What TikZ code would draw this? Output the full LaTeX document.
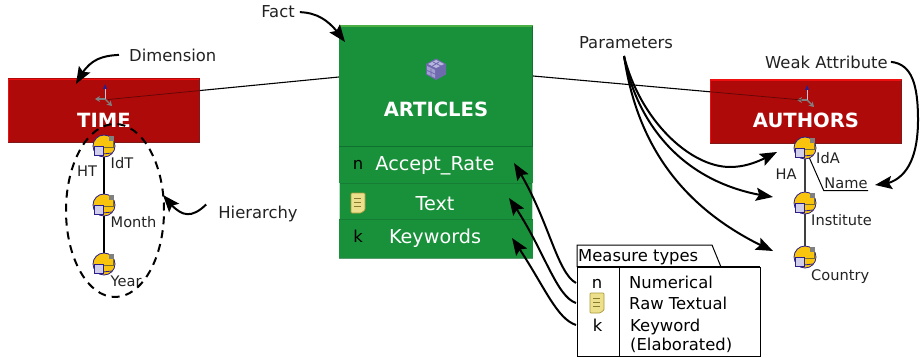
\documentclass[tikz,border=0pt]{standalone}
\usepackage{fontspec}
\setmainfont{DejaVu Sans}
\usetikzlibrary{arrows.meta,bending,shapes.geometric,calc}
\pgfdeclarelayer{bg}
\pgfsetlayers{bg,main}
\definecolor{dimred}{HTML}{AE0A0A}
\definecolor{dimhi}{HTML}{EE1010}
\definecolor{dimlo}{HTML}{7E1A1A}
\definecolor{factgreen}{HTML}{19913A}
\definecolor{facthi}{HTML}{4CAF45}
\definecolor{factlo}{HTML}{127030}
\definecolor{attryellow}{HTML}{F8C40E}
\definecolor{attrblue}{HTML}{2A1E8C}
\definecolor{attrsq}{HTML}{D0CEE8}
\definecolor{inktext}{HTML}{222222}
\definecolor{notey}{HTML}{EDE08C}
\definecolor{noteb}{HTML}{A89A3C}
\definecolor{cubeb}{HTML}{6E6AAE}
\definecolor{cubel}{HTML}{B8B6DE}
\tikzset{
  lab/.style={inner sep=0pt,text=inktext,font=\fontsize{16.4}{18}\selectfont},
  small/.style={inner sep=0pt,text=inktext,font=\fontsize{14.6}{16}\selectfont},
  dimbox/.style={fill=dimred,draw=none,inner sep=0pt,minimum width=192pt,minimum height=65pt},
  factbox/.style={fill=factgreen,draw=none,inner sep=0pt,minimum width=194pt},
  boxtitle/.style={inner sep=0pt,anchor=base,text=white,font=\fontsize{19.6}{22}\selectfont\bfseries},
  field/.style={inner sep=0pt,anchor=base,text=white,font=\fontsize{19.2}{22}\selectfont},
  typ/.style={inner sep=0pt,text=black,font=\fontsize{16.4}{18}\selectfont},
  attr/.style={circle,fill=attryellow,draw=attrblue,line width=0.8pt,inner sep=0pt,minimum size=22pt},
  callout/.style={line width=2pt,-{Stealth[length=17pt,width=13pt,inset=3pt,flex]},black},
  thin link/.style={line width=1.1pt,black},
  faint link/.style={line width=0.7pt,color=black!45!dimred},
}
% attribute icon: yellow disc, lilac square, corner tag
\newcommand{\attricon}[3]{%
  \node[attr] (#1) at (#2,#3) {};
  \draw[attrblue,line width=0.8pt] (#2-1,#3+8) -- (#2+8,#3+7);
  \fill[gray] (#2+5,#3-10) rectangle (#2+10,#3-5);
  \draw[noteb!70!black,line width=0.8pt] (#2+9,#3-5) -- (#2+9,#3+1) -- (#2-1,#3+1);
  \draw[attrblue,line width=0.9pt,fill=attrsq] (#2-9.5,#3) rectangle (#2-0.5,#3+9);
}
\newcommand{\noteicon}[2]{%
  \draw[noteb,line width=0.7pt,fill=notey,rounded corners=0.8pt]
    (#1-7,#2-10) -- (#1+7,#2-10) -- (#1+7,#2+7) -- (#1+3,#2+10) -- (#1-7,#2+10) -- cycle;
  \foreach \ny in {-5,-1,3}{\draw[noteb!80!black,line width=1pt] (#1-4,#2+\ny) -- (#1+3,#2+\ny);}
}
\newcommand{\axesicon}[2]{%
  \draw[white!75!attrblue,line width=1pt] (#1,#2) -- (#1,#2-11);
  \fill[attrblue] (#1,#2-15) -- (#1+2,#2-10) -- (#1-2,#2-10) -- cycle;
  \draw[black!50,line width=1.4pt,-{Stealth[length=5pt,width=6pt]}] (#1,#2) -- (#1-10,#2);
  \draw[black!50,line width=1.4pt,-{Stealth[length=5pt,width=6pt]}] (#1,#2) -- (#1+7,#2+7);
}
\begin{document}
\begin{tikzpicture}[x=1pt,y=-1pt]
\useasboundingbox (0,0) rectangle (920,358);
% ---- boxes
\node[dimbox] (time) at (104,111) {};
\node[dimbox] (authors) at (806,111.5) {};
\node[factbox,minimum height=122pt] (fact) at (436,86) {};
\node[factbox,minimum height=36pt] (frate) at (436,165) {};
\node[factbox,minimum height=36pt] (ftext) at (436,201) {};
\node[factbox,minimum height=39pt] (fkey) at (436,238.5) {};
\draw[facthi,line width=2pt] (339,26) -- (533,26);
\draw[factlo,line width=1pt] (532.5,26) -- (532.5,147);
\draw[factlo,line width=1pt] (339,147) -- (533,147);
\draw[factlo!60!factgreen,line width=0.8pt] (339,183) -- (533,183);
\draw[factlo!60!factgreen,line width=0.8pt] (339,219) -- (533,219);
\draw[factlo!70!white,line width=1pt] (339,258) -- (533,258);
\draw[white!70!factgreen,line width=0.7pt] (339.3,183) -- (339.3,219) (532.7,183) -- (532.7,219);
\draw[dimhi,line width=1.6pt] (8.5,143) -- (8.5,79.5) -- (199.5,79.5);
\draw[dimlo,line width=1pt] (199.5,79.5) -- (199.5,143) -- (8,143);
\draw[dimhi,line width=1.6pt] (710.5,144) -- (710.5,80) -- (901.5,80);
\draw[dimlo,line width=1pt] (901.5,80) -- (901.5,144) -- (710,144);
% ---- fact icon: cube
\begin{scope}[shift={(436,69)}]
  \fill[cubeb] (0,-10.5) -- (10,-5) -- (10,5.5) -- (0,11) -- (-10,5.5) -- (-10,-5) -- cycle;
  \fill[cubel] (0,-9) -- (8,-5) -- (0,-1) -- (-8,-5) -- cycle;
  \fill[cubel!70!cubeb] (-9,-3) -- (-1,1) -- (-1,9) -- (-9,5) -- cycle;
  \draw[cubeb,line width=0.8pt] (-5,-2) -- (3,-7) (5,-3) -- (-3,-7) (-5,0) -- (-5,7) (-9,1.5) -- (-1,5) (5,-1) -- (5,7) (9,1.5) -- (1,5);
\end{scope}
\axesicon{105}{99}
\axesicon{807}{100}
% ---- titles
\node[boxtitle] (ttime) at (104,128) {TIME};
\node[boxtitle] (tart) at (436,117) {ARTICLES};
\node[boxtitle] (taut) at (806,128) {AUTHORS};
\node[field] (lrate) at (435,171) {Accept\_Rate};
\node[field] (ltext) at (435,210) {Text};
\node[field] (lkey) at (435,243) {Keywords};
\node[typ,anchor=base] (fn) at (358,170) {n};
\node[typ,anchor=base] (fk) at (358,242) {k};
\noteicon{358}{203}
% ---- dimension links
\coordinate (artL) at (339,77);
\coordinate (artR) at (533,76);
\coordinate (taxes) at (108,99.5);
\coordinate (aaxes) at (802,100);
\begin{pgfonlayer}{bg}
  \draw[thin link] (taxes) -- (artL);
  \draw[thin link] (aaxes) -- (artR);
\end{pgfonlayer}
\draw[faint link] (taxes) -- ($(taxes)!0.397!(artL)$);
\draw[faint link] (aaxes) -- ($(aaxes)!0.342!(artR)$);
% ---- TIME hierarchy
\attricon{idt}{104}{146}
\attricon{month}{104}{205}
\attricon{year}{104}{264}
\begin{pgfonlayer}{bg}
  \draw[line width=2pt] (idt) -- (month);
  \draw[line width=2pt] (month) -- (year);
\end{pgfonlayer}
\node[small,anchor=base west] (lidt) at (110.5,169) {IdT};
\node[small,anchor=base west] (lmonth) at (110.5,227) {Month};
\node[small,anchor=base west] (lyear) at (110.5,286) {Year};
\node[small,anchor=base] (lht) at (87,177) {HT};
\node[draw,line width=2pt,ellipse,minimum width=98pt,minimum height=173pt,inner sep=0pt,dash pattern=on 8pt off 6pt] (hier) at (115,210.5) {};
% ---- AUTHORS hierarchy
\attricon{ida}{805}{148}
\attricon{inst}{805}{203}
\attricon{country}{805}{257}
\node[small,minimum width=44pt,minimum height=15pt] (lname) at (846,183) {Name};
\begin{pgfonlayer}{bg}
  \draw[line width=1.1pt,black!75] (ida) -- (inst);
  \draw[line width=1.1pt,black!75] (inst) -- (country);
  \draw[line width=1pt,black] (ida.center) -- (lname.south west) -- (lname.south east);
\end{pgfonlayer}
\node[small,anchor=base west] (lida) at (816,164) {IdA};
\node[small,anchor=base west] (linst) at (811,225) {Institute};
\node[small,anchor=base west] (lcountry) at (811,280) {Country};
\node[small,anchor=base] (lha) at (786,179) {HA};
% ---- labels
\node[lab,anchor=base west] (ldim) at (129,62) {Dimension};
\node[lab,anchor=base] (lfact) at (278,18) {Fact};
\node[lab,anchor=base] (lhier) at (258,218) {Hierarchy};
\node[lab,anchor=base] (lpar) at (626,49) {Parameters};
\node[lab,anchor=base west] (lweak) at (765,69) {Weak Attribute};
% ---- measure types box
\draw[line width=1pt,fill=white] (577,267) -- (577,245) -- (712,245) -- (721,267);
\node[draw=black,line width=1pt,fill=white,inner sep=0pt,minimum width=183pt,minimum height=89pt] (mbox) at (668.5,311.5) {};
\draw[line width=1.6pt] (577,267) -- (760,267);
\draw[line width=1pt] (619,267) -- (619,356);
\node[typ,anchor=base west] (mt) at (578,261) {Measure types};
\node[typ,anchor=base] (mn) at (597,288) {n};
\noteicon{597}{303}
\node[typ,anchor=base] (mk) at (597.5,331) {k};
\node[typ,anchor=base west] (m1) at (629,288) {Numerical};
\node[typ,anchor=base west] (m2) at (629,309) {Raw Textual};
\node[typ,anchor=base west] (m3) at (630,331) {Keyword};
\node[typ,anchor=base west] (m4) at (630,350) {(Elaborated)};
% ---- callouts
\coordinate (e1) at (76,84);
\draw[callout] ([xshift=-10pt,yshift=1pt]ldim.west) .. controls (97,56) and (87,62) .. (e1);
\coordinate (e2) at (345,42);
\draw[callout] ([xshift=5pt]lfact.east) .. controls (322,13) and (333,25) .. (e2);
\coordinate (e3) at (163,195);
\draw[callout] ([xshift=-12pt,yshift=9pt]lhier.west) .. controls (188,222) and (178,214) .. (e3);
\coordinate (wk) at (918,120);
\coordinate (e4) at (875,185);
\draw[line width=2pt] ([xshift=3pt,yshift=1pt]lweak.east) .. controls (912,64) and (918,85) .. (wk);
\draw[callout] (wk) .. controls (918,160) and (905,185) .. (e4);
\coordinate (ps) at (624,56);
\coordinate (pa) at (730,167);
\coordinate (e5) at (777,152);
\coordinate (e6) at (773,197);
\coordinate (e7) at (773,251);
\draw[line width=2pt] (ps) .. controls (640,120) and (690,167) .. (pa);
\draw[callout] (pa) .. controls (748,167) and (762,160) .. (e5);
\draw[callout] (ps) .. controls (636,120) and (680,185) .. (e6);
\draw[callout] (ps) .. controls (635,130) and (670,205) .. (e7);
\coordinate (s8) at (576,283);
\coordinate (s9) at (576,303);
\coordinate (s10) at (576,325);
\coordinate (e8) at (514,163);
\coordinate (e9) at (509,198);
\coordinate (e10) at (512,238);
\draw[callout] (s8) .. controls (556,272) and (548,215) .. (e8);
\draw[callout] (s9) .. controls (555,296) and (543,245) .. (e9);
\draw[callout] (s10) .. controls (555,318) and (543,282) .. (e10);
\end{tikzpicture}
\end{document}
